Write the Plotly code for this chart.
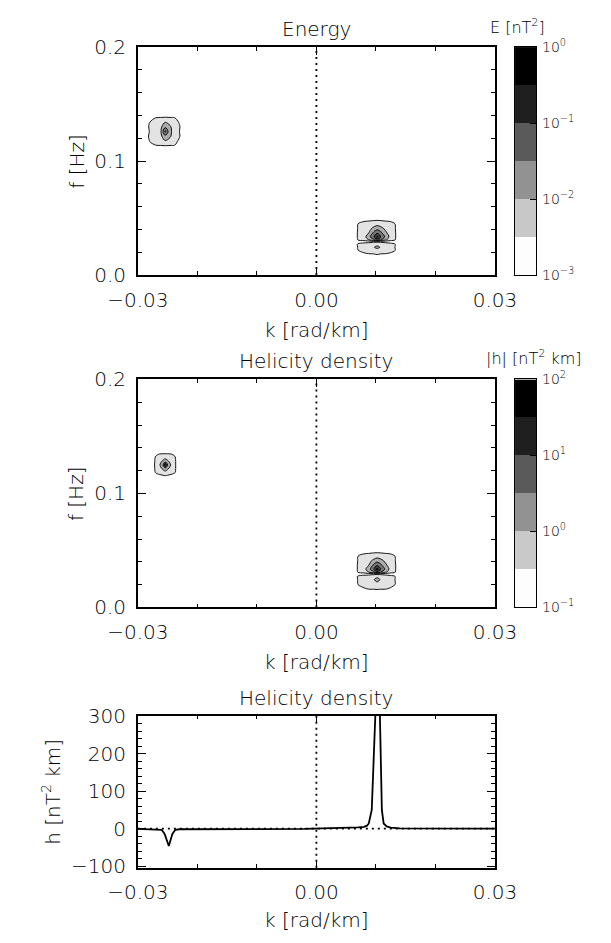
import numpy as np
import plotly.graph_objects as go

W, H = 611, 943
FONT = "DejaVu Sans"

# ---------------- data ----------------
k_range = [-0.03, 0.03]
k_ticks = [-0.03, 0.0, 0.03]
k_ticktext = ["\u22120.03", "0.00", "0.03"]
f_range = [0.0, 0.2]
f_ticks = [0.0, 0.1, 0.2]
f_ticktext = ["0.0", "0.1", "0.2"]
h_range = [-104, 302]
h_ticks = [-100, 0, 100, 200, 300]
h_ticktext = ["\u2212100", "0", "100", "200", "300"]

# contour band edges (log10)
E_levels = [-3.0, -2.5, -2.0, -1.5, -1.0, -0.5, 0.0]
E_cb_ticks = [-3, -2, -1, 0]
E_cb_text = ["10<sup>\u22123</sup>", "10<sup>\u22122</sup>", "10<sup>\u22121</sup>", "10<sup>0</sup>"]
Hd_levels = [-1.0, -0.5, 0.0, 0.5, 1.0, 1.5, 2.0]
Hd_cb_ticks = [-1, 0, 1, 2]
Hd_cb_text = ["10<sup>\u22121</sup>", "10<sup>0</sup>", "10<sup>1</sup>", "10<sup>2</sup>"]
band_colors = ["#ffffff", "#d0d0d0", "#9e9e9e", "#6c6c6c", "#383838", "#000000"]

# Energy, blob near k=-0.025, f=0.126  (log10 E)
e1_k = [-0.0290, -0.0280, -0.0270, -0.0262, -0.0254, -0.0246, -0.0238, -0.0230, -0.0220]
e1_f = [0.110, 0.114, 0.118, 0.122, 0.126, 0.130, 0.134, 0.138, 0.142]
e1_z = [
    [-3.2, -3.2, -3.2, -3.2, -3.2, -3.2, -3.2, -3.2, -3.2],
    [-3.2, -2.65, -2.50, -2.45, -2.40, -2.45, -2.50, -2.65, -3.2],
    [-3.2, -2.45, -2.35, -2.20, -2.00, -2.10, -2.30, -2.60, -3.2],
    [-3.2, -2.30, -2.30, -2.15, -1.60, -1.95, -2.20, -2.45, -3.2],
    [-3.2, -2.45, -2.30, -2.15, -0.90, -1.90, -2.20, -2.50, -3.2],
    [-3.2, -2.35, -2.30, -2.15, -1.60, -1.95, -2.20, -2.45, -3.2],
    [-3.2, -2.50, -2.35, -2.20, -2.00, -2.10, -2.30, -2.55, -3.2],
    [-3.2, -2.60, -2.50, -2.45, -2.40, -2.45, -2.50, -2.65, -3.2],
    [-3.2, -3.2, -3.2, -3.2, -3.2, -3.2, -3.2, -3.2, -3.2],
]

# Energy, blob near k=0.010, f=0.03
e2_k = [0.0060, 0.0070, 0.0080, 0.0088, 0.0096, 0.0102, 0.0108, 0.0116, 0.0124, 0.0132, 0.0142]
e2_f = [0.014, 0.018, 0.022, 0.0245, 0.027, 0.0295, 0.031, 0.0335, 0.037, 0.041, 0.045, 0.049, 0.053]
e2_z = [
    [-3.2, -3.2, -3.2, -3.2, -3.2, -3.2, -3.2, -3.2, -3.2, -3.2, -3.2],
    [-3.2, -2.75, -2.60, -2.55, -2.55, -2.50, -2.55, -2.55, -2.60, -2.75, -3.2],
    [-3.2, -2.50, -2.35, -2.30, -2.25, -2.20, -2.25, -2.30, -2.35, -2.45, -3.2],
    [-3.2, -2.45, -2.30, -2.20, -2.05, -1.85, -2.05, -2.25, -2.35, -2.50, -3.2],
    [-3.2, -2.40, -2.30, -2.30, -2.25, -2.20, -2.25, -2.30, -2.35, -2.45, -3.2],
    [-3.2, -2.80, -2.70, -2.65, -2.60, -2.60, -2.60, -2.65, -2.70, -2.80, -3.2],
    [-3.2, -2.45, -2.30, -2.00, -1.60, -1.20, -1.50, -1.90, -2.30, -2.45, -3.2],
    [-3.2, -2.40, -2.20, -1.70, -1.10, -0.40, -1.00, -1.60, -2.15, -2.40, -3.2],
    [-3.2, -2.40, -2.25, -2.00, -1.40, -1.05, -1.35, -1.90, -2.20, -2.40, -3.2],
    [-3.2, -2.45, -2.30, -2.15, -1.90, -1.70, -1.85, -2.10, -2.30, -2.45, -3.2],
    [-3.2, -2.50, -2.40, -2.35, -2.25, -2.20, -2.25, -2.35, -2.40, -2.50, -3.2],
    [-3.2, -2.70, -2.60, -2.60, -2.60, -2.60, -2.60, -2.60, -2.60, -2.70, -3.2],
    [-3.2, -3.2, -3.2, -3.2, -3.2, -3.2, -3.2, -3.2, -3.2, -3.2, -3.2],
]

# |h|, blob near k=-0.025, f=0.125  (log10 |h|)
h1_k = [-0.0280, -0.0270, -0.0264, -0.0258, -0.0254, -0.0250, -0.0244, -0.0238, -0.0228]
h1_f = [0.110, 0.1155, 0.119, 0.122, 0.125, 0.128, 0.131, 0.1345, 0.140]
h1_z = [
    [-1.3, -1.3, -1.3, -1.3, -1.3, -1.3, -1.3, -1.3, -1.3],
    [-1.3, -0.75, -0.60, -0.55, -0.50, -0.55, -0.60, -0.75, -1.3],
    [-1.3, -0.40, -0.30, -0.20, -0.10, -0.20, -0.30, -0.40, -1.3],
    [-1.3, -0.35, -0.20, 0.10, 0.35, 0.10, -0.20, -0.35, -1.3],
    [-1.3, -0.30, -0.10, 0.40, 1.60, 0.50, -0.10, -0.35, -1.3],
    [-1.3, -0.35, -0.20, 0.10, 0.35, 0.10, -0.20, -0.35, -1.3],
    [-1.3, -0.40, -0.30, -0.20, -0.10, -0.20, -0.30, -0.40, -1.3],
    [-1.3, -0.60, -0.50, -0.45, -0.45, -0.45, -0.50, -0.60, -1.3],
    [-1.3, -1.3, -1.3, -1.3, -1.3, -1.3, -1.3, -1.3, -1.3],
]

# |h|, blob near k=0.010, f=0.03
h2_k = [0.0060, 0.0070, 0.0080, 0.0088, 0.0096, 0.0102, 0.0108, 0.0116, 0.0124, 0.0132, 0.0142]
h2_f = [0.012, 0.016, 0.021, 0.0245, 0.027, 0.0295, 0.031, 0.0335, 0.037, 0.041, 0.045, 0.049, 0.053]
h2_z = [
    [-1.2, -1.2, -1.2, -1.2, -1.2, -1.2, -1.2, -1.2, -1.2, -1.2, -1.2],
    [-1.2, -0.70, -0.55, -0.50, -0.50, -0.45, -0.50, -0.50, -0.55, -0.70, -1.2],
    [-1.2, -0.45, -0.35, -0.30, -0.25, -0.20, -0.25, -0.30, -0.35, -0.45, -1.2],
    [-1.2, -0.45, -0.30, -0.20, -0.10, 0.30, -0.10, -0.25, -0.35, -0.50, -1.2],
    [-1.2, -0.40, -0.30, -0.30, -0.25, -0.20, -0.25, -0.30, -0.35, -0.45, -1.2],
    [-1.2, -0.80, -0.70, -0.65, -0.60, -0.60, -0.60, -0.65, -0.70, -0.80, -1.2],
    [-1.2, -0.45, -0.30, 0.00, 0.40, 0.80, 0.50, 0.10, -0.30, -0.45, -1.2],
    [-1.2, -0.40, -0.20, 0.30, 0.90, 1.70, 1.00, 0.40, -0.15, -0.40, -1.2],
    [-1.2, -0.40, -0.25, 0.00, 0.60, 0.95, 0.65, 0.10, -0.20, -0.40, -1.2],
    [-1.2, -0.45, -0.30, -0.15, 0.10, 0.30, 0.15, -0.10, -0.30, -0.45, -1.2],
    [-1.2, -0.50, -0.40, -0.35, -0.25, -0.20, -0.25, -0.35, -0.40, -0.50, -1.2],
    [-1.2, -0.70, -0.60, -0.60, -0.60, -0.60, -0.60, -0.60, -0.60, -0.70, -1.2],
    [-1.2, -1.2, -1.2, -1.2, -1.2, -1.2, -1.2, -1.2, -1.2, -1.2, -1.2],
]

# helicity density line, h(k) [nT^2 km]
hk_k = [-0.0300, -0.0280, -0.0265, -0.0260, -0.0255, -0.0248, -0.0242, -0.0237, -0.0230,
        -0.0200, -0.0100, -0.0020, 0.0010, 0.0040, 0.0070, 0.0080, 0.0085, 0.0088,
        0.0093, 0.0104, 0.0110, 0.0113, 0.0118, 0.0125, 0.0140, 0.0200, 0.0300]
hk_h = [-0.5, -0.8, -1.0, -3.0, -14.0, -46.0, -14.0, -3.0, -1.5,
        -1.0, -1.0, -0.5, 1.5, 2.5, 3.5, 5.0, 8.0, 14.0,
        50.0, 510.0, 50.0, 14.0, 6.0, 3.0, 1.0, 0.5, 0.3]


# ---------------- layout helpers ----------------
def xp(px):
    return px / W


def yp(py):
    return 1 - py / H


PX_L, PX_R = 117, 508
CB_L, CB_R = 530, 553
P1 = (36, 270)
P2 = (377, 611)
P3 = (722, 878)


def ydom(p):
    return [yp(p[1]), yp(p[0])]


def band_scale(colors):
    n = len(colors)
    pos = [0.0] + [(0.5 + i) / (n - 0.5) for i in range(n - 1)] + [1.0]
    cols = [colors[0]] + list(colors[:-1]) + [colors[-1]]
    return [[p, c] for p, c in zip(pos, cols)]


fig = go.Figure()


def add_contour(kx, fy, z, levels, xa, ya):
    lv = levels
    fig.add_trace(go.Contour(
        x=kx, y=fy, z=z, xaxis=xa, yaxis=ya,
        autocontour=False,
        contours=dict(start=lv[1], end=lv[-2], size=lv[1] - lv[0], coloring="fill", showlines=True),
        colorscale=band_scale(band_colors), zmin=lv[0], zmax=lv[-1],
        line=dict(color="black", width=0.9, smoothing=1.0),
        showscale=False, hoverinfo="skip",
    ))


def add_colorbar(levels, xa, ya):
    mids = [(a + b) / 2 for a, b in zip(levels[:-1], levels[1:])]
    fig.add_trace(go.Heatmap(
        x=[0], y=mids, z=[[m] for m in mids], xaxis=xa, yaxis=ya,
        colorscale=band_scale(band_colors), zmin=levels[0], zmax=levels[-2],
        showscale=False, hoverinfo="skip",
    ))


# panel 1 (energy)
add_contour(e1_k, e1_f, e1_z, E_levels, "x", "y")
add_contour(e2_k, e2_f, e2_z, E_levels, "x", "y")
# panel 2 (|h|)
add_contour(h1_k, h1_f, h1_z, Hd_levels, "x2", "y2")
add_contour(h2_k, h2_f, h2_z, Hd_levels, "x2", "y2")

dot = dict(color="black", width=1.8, dash="2px,4px")
fig.add_trace(go.Scatter(x=[0, 0], y=f_range, mode="lines", line=dot, xaxis="x", yaxis="y", hoverinfo="skip"))
fig.add_trace(go.Scatter(x=[0, 0], y=f_range, mode="lines", line=dot, xaxis="x2", yaxis="y2", hoverinfo="skip"))
fig.add_trace(go.Scatter(x=[0, 0], y=h_range, mode="lines", line=dot, xaxis="x3", yaxis="y3", hoverinfo="skip"))
fig.add_trace(go.Scatter(x=k_range, y=[0, 0], mode="lines", line=dot, xaxis="x3", yaxis="y3", hoverinfo="skip"))

# panel 3 line
fig.add_trace(go.Scatter(x=hk_k, y=hk_h, mode="lines", line=dict(color="black", width=1.8),
                         xaxis="x3", yaxis="y3", hoverinfo="skip", cliponaxis=True))

# colorbars
add_colorbar(E_levels, "x4", "y4")
add_colorbar(Hd_levels, "x5", "y5")

tickfont = dict(family=FONT, size=20, color="black", weight=300)
axis_common = dict(showline=True, linecolor="black", linewidth=1.6, mirror="ticks",
                   ticks="inside", ticklen=8, tickwidth=1.4, tickcolor="black",
                   showgrid=False, zeroline=False, tickfont=tickfont, fixedrange=True)


def kaxis(anchor, p):
    return dict(axis_common, domain=[xp(PX_L), xp(PX_R)], anchor=anchor, range=k_range,
                tickmode="array", tickvals=k_ticks, ticktext=k_ticktext, ticklabelstandoff=6,
                minor=dict(ticks="inside", ticklen=4, tickwidth=1.2, tickcolor="black",
                           tickmode="linear", tick0=0, dtick=0.01, showgrid=False))


def faxis(anchor, p):
    return dict(axis_common, domain=ydom(p), anchor=anchor, range=f_range,
                tickmode="array", tickvals=f_ticks, ticktext=f_ticktext, ticklabelstandoff=6,
                minor=dict(ticks="inside", ticklen=4, tickwidth=1.2, tickcolor="black",
                           tickmode="linear", tick0=0, dtick=0.02, showgrid=False))


cb_common = dict(showline=True, linecolor="black", linewidth=1.4, mirror=True,
                 showgrid=False, zeroline=False, fixedrange=True)
cbfont = dict(family=FONT, size=14, color="black", weight=300)

fig.update_layout(
    width=W, height=H, margin=dict(l=0, r=0, t=0, b=0),
    paper_bgcolor="white", plot_bgcolor="white", showlegend=False,
    font=dict(family=FONT, color="black"),
    xaxis=kaxis("y", P1), yaxis=faxis("x", P1),
    xaxis2=kaxis("y2", P2), yaxis2=faxis("x2", P2),
    xaxis3=kaxis("y3", P3),
    yaxis3=dict(axis_common, domain=ydom(P3), anchor="x3", range=h_range,
                tickmode="array", tickvals=h_ticks, ticktext=h_ticktext, ticklabelstandoff=6,
                minor=dict(ticks="inside", ticklen=4, tickwidth=1.2, tickcolor="black",
                           tickmode="linear", tick0=0, dtick=20, showgrid=False)),
    xaxis4=dict(cb_common, domain=[xp(CB_L), xp(CB_R)], anchor="y4", range=[-0.5, 0.5],
                showticklabels=False, ticks=""),
    yaxis4=dict(cb_common, domain=ydom(P1), anchor="x4", side="right", range=[E_levels[0], E_levels[-1]],
                tickmode="array", tickvals=E_cb_ticks, ticktext=E_cb_text, ticks="inside",
                ticklen=6, tickcolor="black", tickfont=cbfont, ticklabelstandoff=2),
    xaxis5=dict(cb_common, domain=[xp(CB_L), xp(CB_R)], anchor="y5", range=[-0.5, 0.5],
                showticklabels=False, ticks=""),
    yaxis5=dict(cb_common, domain=ydom(P2), anchor="x5", side="right", range=[Hd_levels[0], Hd_levels[-1]],
                tickmode="array", tickvals=Hd_cb_ticks, ticktext=Hd_cb_text, ticks="inside",
                ticklen=6, tickcolor="black", tickfont=cbfont, ticklabelstandoff=2),
)

cx = xp((PX_L + PX_R) / 2)
ann = []


def text(s, x, y, size=20, angle=0, xanchor="center"):
    ann.append(dict(text=s, x=x, y=y, xref="paper", yref="paper", showarrow=False,
                    xanchor=xanchor, yanchor="middle", textangle=angle,
                    font=dict(family=FONT, size=size, color="black", weight=300)))


text("Energy", cx, yp(17))
text("Helicity density", cx, yp(358))
text("Helicity density", cx, yp(704))
text("k [rad/km]", cx, yp(326))
text("k [rad/km]", cx, yp(667))
text("k [rad/km]", cx, yp(932))
text("f [Hz]", xp(50), yp((P1[0] + P1[1]) / 2), angle=-90)
text("f [Hz]", xp(50), yp((P2[0] + P2[1]) / 2), angle=-90)
text("h [nT<sup>2</sup> km]", xp(22), yp((P3[0] + P3[1]) / 2), angle=-90)
text("E [nT<sup>2</sup>]", xp(500), yp(15), size=16, xanchor="left")
text("|h| [nT<sup>2</sup> km]", xp(496), yp(355), size=16, xanchor="left")
fig.update_layout(annotations=ann)

fig.write_html("out.html")
